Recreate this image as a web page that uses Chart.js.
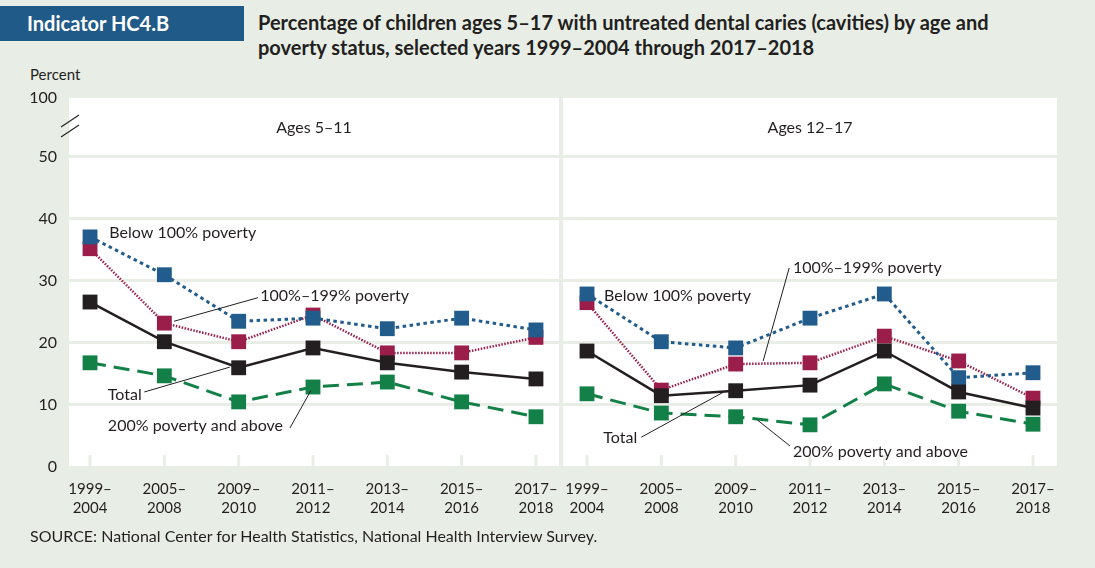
<!DOCTYPE html>
<html>
<head>
<meta charset="utf-8">
<script src="https://cdn.jsdelivr.net/npm/chart.js@4"></script>
<style>
  body { margin: 0; background: #e8eee6; font-family: Lato, "Noto Sans", sans-serif; color: #231f20; }
  #page { position: relative; width: 1095px; height: 568px; overflow: hidden; }
  #badge { position: absolute; left: 0; top: 6px; width: 244px; height: 35px; background: #1f5a88;
           color: #fff; font-weight: bold; font-size: 20px; line-height: 35px; padding-left: 27px; box-sizing: border-box; }
  #title { position: absolute; left: 258px; top: 10px; font-weight: bold; font-size: 20px; line-height: 25px; }
  #unit { position: absolute; left: 30px; top: 65px; font-size: 15px; }
  #source { position: absolute; left: 30px; top: 526px; font-size: 16px; }
  canvas { position: absolute; top: 0; }
</style>
</head>
<body>
<div id="page">
  <div id="badge">Indicator HC4.B</div>
  <div id="title">Percentage of children ages 5–17 with untreated dental caries (cavities) by age and<br>poverty status, selected years 1999–2004 through 2017–2018</div>
  <div id="unit">Percent</div>
  <canvas id="left" style="left:0px;width:580px;height:530px" width="580" height="530"></canvas>
  <canvas id="right" style="left:540px;width:540px;height:530px" width="540" height="530"></canvas>
  <div id="source">SOURCE: National Center for Health Statistics, National Health Interview Survey.</div>
</div>
<script>
// years on the x axis
const yearLabels = [['1999–', '2004'], ['2005–', '2008'], ['2009–', '2010'], ['2011–', '2012'],
                    ['2013–', '2014'], ['2015–', '2016'], ['2017–', '2018']];
const yTicks = [0, 10, 20, 30, 40, 50];

// Ages 5-11
const below511 = [37.1, 31.0, 23.5, 24.0, 22.3, 24.0, 22.1];
const mid511   = [35.2, 23.2, 20.2, 24.5, 18.4, 18.4, 20.9];
const total511 = [26.6, 20.2, 16.0, 19.2, 16.8, 15.3, 14.2];
const above511 = [16.8, 14.7, 10.5, 12.9, 13.7, 10.5, 8.1];

// Ages 12-17
const below1217 = [27.9, 20.2, 19.2, 24.0, 27.9, 14.4, 15.2];
const mid1217   = [26.5, 12.4, 16.6, 16.8, 21.1, 17.1, 11.1];
const total1217 = [18.7, 11.5, 12.3, 13.2, 18.7, 12.1, 9.5];
const above1217 = [11.8, 8.7, 8.1, 6.8, 13.4, 9.0, 6.9];

// callout labels, in data units: [text, x, y, leader line x1, y1, x2, y2]
const notes511 = [
  ['Below 100% poverty', 0.26, 37.7],
  ['100%–199% poverty', 2.29, 27.6, 1.13, 23.5, 2.26, 27.3],
  ['Total', 0.24, 11.6, 0.73, 12.1, 1.88, 16.1],
  ['200% poverty and above', 0.24, 6.6, 2.69, 6.3, 2.97, 12.3]
];
const notes1217 = [
  ['Below 100% poverty', 0.23, 27.6],
  ['100%–199% poverty', 2.77, 32.1, 2.72, 32.1, 2.37, 17.1],
  ['Total', 0.22, 4.7, 0.73, 4.8, 1.84, 12.1],
  ['200% poverty and above', 2.77, 2.4, 2.73, 3.4, 2.29, 7.6]
];

const BG = '#e8eee6';
const TOP = 59.5; // header strip above 50 stands for the break up to 100
const FONT = 'Lato, "Noto Sans", sans-serif';

const panelPlugin = {
  id: 'panel',
  beforeDraw(chart) {
    const a = chart.chartArea, c = chart.ctx;
    c.save();
    c.fillStyle = '#fff';
    c.fillRect(a.left, a.top, a.right - a.left, a.bottom - a.top);
    c.restore();
  },
  beforeDatasetsDraw(chart) {
    const c = chart.ctx, x = chart.scales.x, a = chart.chartArea;
    c.save();
    c.strokeStyle = BG;
    c.lineWidth = 3;
    yearLabels.forEach((_, i) => {
      const px = x.getPixelForValue(i);
      c.beginPath(); c.moveTo(px, a.bottom - 12); c.lineTo(px, a.bottom); c.stroke();
    });
    c.restore();
  },
  afterDraw(chart, args, opts) {
    const c = chart.ctx, x = chart.scales.x, y = chart.scales.y;
    c.save();
    c.fillStyle = '#231f20';
    c.font = '16px ' + FONT;
    c.textAlign = 'center';
    c.textBaseline = 'middle';
    c.fillText(opts.title, (chart.chartArea.left + chart.chartArea.right) / 2,
               (y.getPixelForValue(TOP) + y.getPixelForValue(50)) / 2);
    c.textAlign = 'left';
    c.strokeStyle = '#231f20';
    c.lineWidth = 1;
    opts.notes.forEach(n => {
      c.fillText(n[0], x.getPixelForValue(n[1]), y.getPixelForValue(n[2]));
      if (n.length > 3) {
        c.beginPath();
        c.moveTo(x.getPixelForValue(n[3]), y.getPixelForValue(n[4]));
        c.lineTo(x.getPixelForValue(n[5]), y.getPixelForValue(n[6]));
        c.stroke();
      }
    });
    if (opts.breakMark) {
      const l = chart.chartArea.left, yb = y.getPixelForValue(55);
      c.lineWidth = 1.2;
      [-5, 5].forEach(d => {
        c.beginPath(); c.moveTo(l - 8, yb + d + 6); c.lineTo(l + 10, yb + d - 6); c.stroke();
      });
    }
    c.restore();
  }
};

function series(label, values, color, dash, width) {
  return {
    label: label,
    data: values.map((v, i) => ({ x: i, y: v })),
    borderColor: color,
    backgroundColor: color,
    borderWidth: width,
    borderDash: dash,
    pointStyle: 'rect',
    pointRadius: 10.5,
    pointBorderWidth: 0,
    pointHoverRadius: 10.5,
    tension: 0
  };
}

function drawPanel(id, title, total, below, mid, above, notes, first) {
  const xMin = first ? -0.283 : -0.323;
  const xMax = first ? 6.31 : 6.323;
  new Chart(document.getElementById(id), {
    type: 'line',
    data: {
      datasets: [
        series('Total', total, '#231f20', [], 2.5),
        series('Below 100% poverty', below, '#225c8c', [3.5, 3.5], 3),
        series('100%–199% poverty', mid, '#9b1d4a', [1.5, 1.5], 2.5),
        series('200% poverty and above', above, '#138047', [16, 8], 3)
      ]
    },
    options: {
      responsive: false,
      animation: false,
      layout: { padding: { top: 98, left: first ? 0 : 23, right: first ? 21 : 23, bottom: 0 } },
      plugins: {
        legend: { display: false },
        tooltip: { enabled: false },
        panel: { title: title, notes: notes, breakMark: first }
      },
      scales: {
        x: {
          type: 'linear',
          min: xMin,
          max: xMax,
          afterBuildTicks: s => { s.ticks = yearLabels.map((_, i) => ({ value: i })); },
          afterFit: s => { s.height = 530 - 467; },
          grid: { display: false },
          border: { display: false },
          ticks: {
            autoSkip: false,
            maxRotation: 0,
            padding: 5,
            color: '#231f20',
            font: { family: FONT, size: 15, lineHeight: 1.25 },
            callback: v => yearLabels[v]
          }
        },
        y: {
          min: 0,
          max: TOP,
          afterBuildTicks: s => { s.ticks = yTicks.concat([TOP]).map(v => ({ value: v })); },
          afterFit: s => { s.width = first ? 69 : 0; },
          grid: {
            color: c => (c.tick && c.tick.value > 50) ? 'rgba(0,0,0,0)' : BG,
            lineWidth: 3,
            drawTicks: false
          },
          border: { display: false },
          ticks: {
            display: first,
            padding: 12,
            color: '#231f20',
            font: { family: FONT, size: 16 },
            callback: v => v > 50 ? '100' : v
          }
        }
      }
    },
    plugins: [panelPlugin]
  });
}

drawPanel('left', 'Ages 5–11', total511, below511, mid511, above511, notes511, true);
drawPanel('right', 'Ages 12–17', total1217, below1217, mid1217, above1217, notes1217, false);
</script>
</body>
</html>
